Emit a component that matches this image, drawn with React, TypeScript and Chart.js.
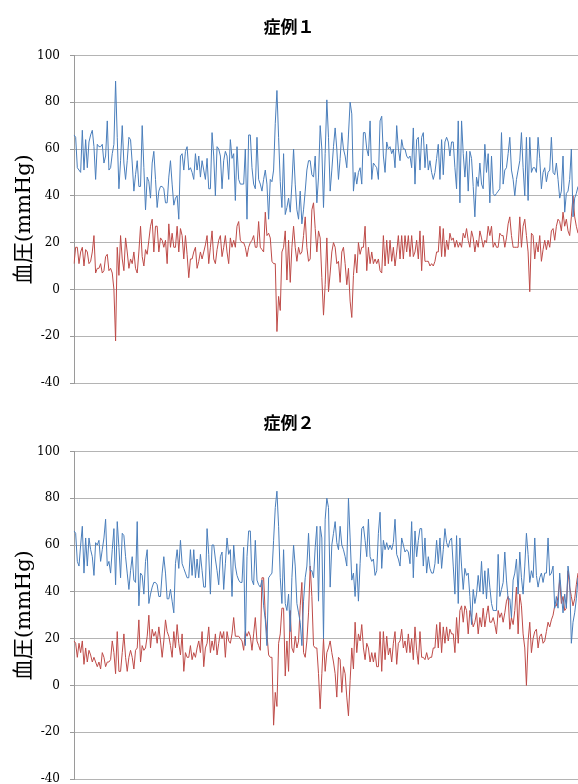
import React, { useEffect, useRef } from "react";
import { Chart, registerables } from "chart.js";

Chart.register(...registerables);

const titles = ["症例１", "症例２"];
const yAxisTitle = "血圧(mmHg)";
const yMin = -40;
const yMax = 100;
const yStep = 20;

const blue1 = [
  66,65,52,51,50,68,51,64,52,63, 66,68,61,47,62,61,61,62,54,57, 72,51,52,58,62,89,65,43,55,70, 54,47,55,65,64,54,42,49,55,44, 44,70,52,34,48,46,39,54,59,47, 35,42,44,44,43,37,37,48,55,45, 36,39,40,30,57,58,51,59,61,51, 52,50,47,58,51,57,48,55,51,47, 56,43,43,67,57,40,61,60,57,43, 55,59,57,47,64,56,58,38,61,47,
  45,45,45,60,30,66,66,52,45,43, 65,47,45,42,47,51,45,30,47,46, 51,71,85,65,46,35,58,32,35,39, 33,45,60,45,34,30,42,28,34,42, 51,55,55,49,48,57,37,48,70,60, 35,58,81,65,42,51,61,69,60,47, 56,67,60,57,52,66,80,75,42,50, 45,50,52,45,67,67,60,57,72,47, 54,53,52,47,72,74,57,50,63,60, 61,58,60,52,70,60,55,64,60,60,
  57,56,57,52,69,45,64,65,51,65, 67,52,62,51,55,50,47,50,56,62, 47,64,49,63,65,63,57,63,63,52, 43,72,37,72,58,48,59,42,59,56, 44,31,48,44,54,45,43,62,50,58, 37,57,41,40,41,42,43,67,45,51, 52,58,65,51,47,40,47,51,55,67, 52,40,65,38,65,50,52,52,50,65, 56,43,50,52,46,50,51,65,50,49, 54,47,39,42,57,33,41,42,47,60, 31,39,41,44,
];

const red1 = [
  11,18,18,11,16,18,10,17,16,11, 12,16,23,7,9,9,11,7,8,14, 15,8,9,7,0,-22,18,6,23,13, 8,22,16,9,13,11,16,9,7,16, 27,14,10,17,15,21,27,30,16,27, 27,16,22,21,18,21,11,28,18,24, 18,18,27,16,26,23,13,23,15,5, 13,13,16,18,9,12,16,13,16,19, 23,11,18,25,13,11,17,21,23,14, 18,23,16,11,22,18,21,18,27,29,
  21,20,20,18,14,18,20,21,23,18, 18,29,18,17,16,33,23,24,22,12, 11,11,-18,-3,-9,16,18,25,4,21, 3,18,27,18,12,18,15,16,23,31, 18,12,13,34,37,26,16,25,22,5, -11,2,22,-1,7,16,20,18,11,12, 3,16,18,11,2,9,-5,-12,6,15, 7,20,15,18,18,27,8,18,11,16, 11,13,11,13,8,7,23,10,21,11, 21,12,18,10,16,23,13,23,13,23,
  16,23,14,23,14,16,21,13,25,8, 23,12,12,12,10,11,10,12,16,16, 27,14,26,14,21,17,24,21,22,18, 21,18,20,18,24,22,26,21,18,25, 22,16,21,18,25,22,18,21,20,27, 23,27,18,20,18,18,24,23,23,18, 22,28,31,23,18,18,18,18,31,18, 27,30,23,16,-1,24,23,13,20,16, 23,12,17,21,17,21,18,25,26,21, 27,30,29,25,33,27,30,25,23,31, 40,31,27,24,
];

const blue2 = [
  66,65,53,51,60,68,48,63,51,63, 58,55,47,61,60,62,53,58,63,71, 51,53,48,58,67,43,70,59,46,65, 64,55,48,41,49,55,45,44,70,34, 48,47,39,53,58,35,39,42,44,44, 43,38,38,48,55,48,37,37,41,36, 31,52,58,50,62,52,50,48,46,46, 58,47,58,46,54,46,56,49,42,42, 67,56,39,60,60,54,49,43,55,57, 41,52,63,56,58,38,60,51,47,45,
  44,44,59,17,55,66,66,45,43,62, 45,43,42,45,34,28,17,46,47,48, 62,76,83,68,46,35,58,35,32,39, 23,46,60,51,35,31,27,17,36,46, 51,65,49,49,46,59,68,36,68,63, 20,71,80,76,42,60,65,70,61,58, 68,60,58,55,51,80,63,45,48,38, 52,36,52,67,68,62,55,71,55,53, 54,47,49,65,74,50,62,58,61,58, 60,58,61,71,56,54,51,63,60,57,
  58,57,52,70,46,66,55,62,67,67, 51,63,48,55,50,48,48,52,62,52, 63,50,58,67,61,59,62,63,51,39, 64,35,63,51,41,50,47,48,38,26, 41,35,39,47,40,53,39,49,37,50, 42,35,32,32,32,56,38,41,44,57, 45,37,37,29,45,48,54,39,57,46, 39,51,65,56,44,49,46,63,47,42, 46,48,44,48,48,63,47,48,51,33, 38,33,48,39,31,39,33,51,45,18, 27,31,37,46,
];

const red2 = [
  19,18,12,18,14,19,9,16,10,15, 13,10,12,10,8,10,7,14,12,8, 10,10,11,19,14,5,23,6,6,14, 22,12,6,12,15,12,7,15,16,28, 10,17,15,16,21,30,16,24,21,23, 18,25,19,12,19,28,23,21,17,12, 23,16,26,18,13,22,6,14,12,12, 17,11,14,12,16,19,14,23,8,16, 18,25,14,19,15,22,13,18,23,20, 23,12,23,19,18,22,29,21,21,21,
  20,19,15,23,21,23,21,15,22,29, 19,17,15,46,46,30,22,13,12,12, -17,-3,-9,18,22,33,33,4,19,6, 32,16,14,21,16,19,34,44,14,12, 19,31,51,38,17,16,16,5,-10,5, 20,6,14,16,19,14,10,5,-5,12, 11,-3,8,5,-5,-13,2,16,7,27, 14,22,19,26,16,11,18,16,10,14, 10,14,8,8,23,6,23,11,21,13, 16,10,18,23,9,18,19,24,16,19,
  14,22,14,20,11,25,15,9,23,12, 12,11,14,11,12,12,16,16,26,16, 27,14,25,18,25,19,24,22,22,14, 29,18,32,34,27,34,32,22,32,29, 25,27,31,22,29,25,33,25,30,34, 27,27,29,26,22,32,29,31,27,31, 36,38,24,29,26,32,42,22,39,34, 22,16,0,19,27,14,20,23,24,16, 21,22,18,19,23,27,25,28,30,34, 34,38,45,35,38,32,33,49,42,38, 34,37,43,48,
];

const BLUE = "#4A7EBB";
const RED = "#BE4B48";
const GRID = "#B4B4B4";
const AXIS = "#9A9A9A";
const SERIF = '"DejaVu Serif", "Noto Sans CJK JP", serif';

function Panel({ title, blue, red }: { title: string; blue: number[]; red: number[] }) {
  const ref = useRef<HTMLCanvasElement | null>(null);
  useEffect(() => {
    if (!ref.current) return;
    const labels = blue.map((_, i) => String(i + 1));
    const chart = new Chart(ref.current, {
      type: "line",
      data: {
        labels,
        datasets: [
          { data: blue, borderColor: BLUE, borderWidth: 1, pointRadius: 0, tension: 0, fill: false },
          { data: red, borderColor: RED, borderWidth: 1, pointRadius: 0, tension: 0, fill: false },
        ],
      },
      options: {
        responsive: false,
        animation: false,
        devicePixelRatio: 1,
        layout: { padding: { left: 0, right: 0, top: 0, bottom: 13 } },
        plugins: {
          legend: { display: false },
          tooltip: { enabled: false },
          title: {
            display: true,
            text: title,
            color: "#000",
            font: { family: SERIF, size: 17, weight: "bold" },
            padding: { top: 18, bottom: 17 },
          },
        },
        scales: {
          x: { display: false },
          y: {
            min: yMin,
            max: yMax,
            ticks: {
              stepSize: yStep,
              color: "#000",
              padding: 10,
              font: { family: SERIF, size: 12 },
            },
            grid: { color: GRID, tickLength: 4, tickColor: AXIS, lineWidth: 1 },
            border: { display: true, color: AXIS, width: 1 },
            title: {
              display: true,
              text: yAxisTitle,
              color: "#000",
              font: { family: SERIF, size: 21 },
              padding: { top: 12, bottom: 0 },
            },
            afterFit: (scale: any) => {
              scale.width = 74;
              scale.paddingTop = 0;
              scale.paddingBottom = 0;
            },
          },
        },
      },
    });
    return () => chart.destroy();
  }, [title, blue, red]);
  return <canvas ref={ref} width={578} height={396} style={{ display: "block" }} />;
}

export default function App() {
  return (
    <div style={{ position: "absolute", left: 0, top: 0, width: 578, height: 784, overflow: "hidden", background: "#fff" }}>
      <Panel title={titles[0]} blue={blue1} red={red1} />
      <Panel title={titles[1]} blue={blue2} red={red2} />
    </div>
  );
}
